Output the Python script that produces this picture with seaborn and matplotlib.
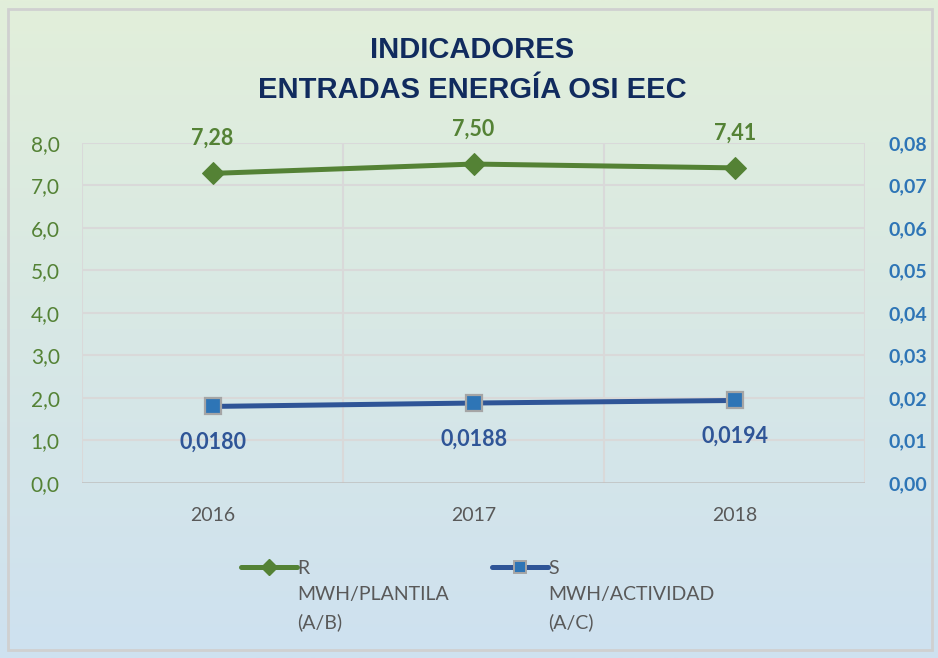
import numpy as np
import pandas as pd
import matplotlib.pyplot as plt
import seaborn as sns
from matplotlib.lines import Line2D
from matplotlib.patches import Rectangle

# ---------------- DATA ----------------
years = ["2016", "2017", "2018"]
r_values = [7.28, 7.50, 7.41]          # MWH/PLANTILA (A/B)
s_values = [0.0180, 0.0188, 0.0194]    # MWH/ACTIVIDAD (A/C)
left_ticks = [0, 1, 2, 3, 4, 5, 6, 7, 8]
right_ticks = [0.00, 0.01, 0.02, 0.03, 0.04, 0.05, 0.06, 0.07, 0.08]

df = pd.DataFrame({"year": years, "R": r_values, "S": s_values})

# ---------------- STYLE ----------------
sns.set_style("white")
plt.rcParams["font.family"] = ["Lato", "DejaVu Sans"]

GREEN = "#548235"
BLUE_LINE = "#2F5597"
BLUE_MK = "#2E75B6"
NAVY = "#112B5E"
GRAY = "#595959"
GRID = "#D9D9D9"

fig = plt.figure(figsize=(9.38, 6.58), dpi=100)

# gradient background (green top -> blue bottom)
bg = fig.add_axes([0, 0, 1, 1], zorder=-10)
top = np.array([226, 239, 218]) / 255
bot = np.array([206, 225, 240]) / 255
t = np.linspace(0, 1, 256)[:, None]
grad = (top * (1 - t) + bot * t)[:, None, :]
bg.imshow(grad, aspect="auto", extent=[0, 1, 0, 1], origin="upper")
bg.add_patch(Rectangle((0.009, 0.012), 0.985, 0.975, fill=False,
                       edgecolor="#D0D0D0", lw=2, transform=bg.transAxes))
bg.set_xlim(0, 1)
bg.set_ylim(0, 1)
bg.axis("off")

ax = fig.add_axes([0.0874, 0.266, 0.835, 0.517])
ax.patch.set_alpha(0)
ax2 = ax.twinx()

# ---------------- LINES ----------------
sns.lineplot(data=df, x="year", y="R", ax=ax, color=GREEN, lw=3.6,
             marker="D", markersize=11, markeredgecolor=GREEN,
             label="R", legend=False, zorder=3)
sns.lineplot(data=df, x="year", y="S", ax=ax2, color=BLUE_LINE, lw=3.6,
             marker="s", markersize=12, markerfacecolor=BLUE_MK,
             markeredgecolor="#A5A5A5", markeredgewidth=1.6,
             label="S", legend=False, zorder=3)

# ---------------- AXES ----------------
ax.set_xlim(-0.5, 2.5)
ax.set_ylim(0, 8)
ax2.set_ylim(0, 0.08)
ax.set_yticks(left_ticks)
ax.set_yticklabels([f"{v:.1f}".replace(".", ",") for v in left_ticks],
                   color=GREEN, fontsize=15)
ax2.set_yticks(right_ticks)
ax2.set_yticklabels([f"{v:.2f}".replace(".", ",") for v in right_ticks],
                    color=BLUE_MK, fontsize=14, fontweight="bold")
ax.set_xticks(range(len(years)))
ax.set_xticklabels(years, color=GRAY, fontsize=14)
ax.set_xlabel("")
ax.set_ylabel("")
ax2.set_ylabel("")
ax.tick_params(axis="x", length=0, pad=17)
ax.tick_params(axis="y", length=0, pad=16)
ax2.tick_params(axis="y", length=0, pad=17)

for y in left_ticks[1:]:
    ax.axhline(y, color=GRID, lw=1.5, zorder=0)
for x in [-0.5, 0.5, 1.5, 2.5]:
    ax.axvline(x, color=GRID, lw=1.5, zorder=0)
ax.axhline(0, color="#BFBFBF", lw=1.8, zorder=1)
for a in (ax, ax2):
    for sp in a.spines.values():
        sp.set_visible(False)

# ---------------- DATA LABELS ----------------
for i, v in enumerate(r_values):
    ax.annotate(f"{v:.2f}".replace(".", ","), (i, v), xytext=(0, 25),
                textcoords="offset points", ha="center", va="center",
                color=GREEN, fontsize=15.5, fontweight="bold")
for i, v in enumerate(s_values):
    ax2.annotate(f"{v:.4f}".replace(".", ","), (i, v), xytext=(0, -26),
                 textcoords="offset points", ha="center", va="center",
                 color=BLUE_LINE, fontsize=15.5, fontweight="bold")

# ---------------- TITLE ----------------
fig.text(0.503, 0.894, "INDICADORES\nENTRADAS ENERGÍA OSI EEC", ha="center",
         va="center", color=NAVY, fontsize=21, fontweight="bold",
         linespacing=1.55, family=["Liberation Sans", "DejaVu Sans"])

# ---------------- LEGEND ----------------
handles = [
    Line2D([], [], color=GREEN, lw=3.6, marker="D", markersize=8),
    Line2D([], [], color=BLUE_LINE, lw=3.6, marker="s", markersize=9,
           markerfacecolor=BLUE_MK, markeredgecolor="#A5A5A5", markeredgewidth=1.4),
]
leg = fig.legend(handles, ["R", "S"], loc="center left",
                 bbox_to_anchor=(0.238, 0.136), ncol=2, frameon=False,
                 fontsize=14, handlelength=2.9, handletextpad=0.0,
                 columnspacing=9.4, labelcolor=GRAY)
fig.canvas.draw()
subs = ["MWH/PLANTILA\n(A/B)", "MWH/ACTIVIDAD\n(A/C)"]
for txt, sub in zip(leg.get_texts(), subs):
    x0, y0 = fig.transFigure.inverted().transform(txt.get_window_extent().p0)
    fig.text(x0, y0 - 0.014, sub, ha="left", va="top",
             color=GRAY, fontsize=14, linespacing=1.65)

fig.savefig("out.png", dpi=100)
